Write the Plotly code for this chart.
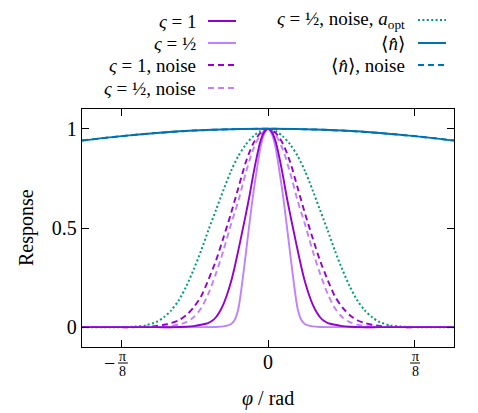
import plotly.graph_objects as go

# ---------------- data ----------------
# sigma = 1/2 (light solid)
X_S05 = [-0.5, -0.4, -0.3, -0.2, -0.14, -0.12, -0.10, -0.09, -0.08, -0.07, -0.06, -0.05, -0.04, -0.03, -0.02, -0.01,
         0.0, 0.01, 0.02, 0.03, 0.04, 0.05, 0.06, 0.07, 0.08, 0.09, 0.10, 0.12, 0.14, 0.2, 0.3, 0.4, 0.5]
Y_S05 = [0, 0, 0, 0, 0.001, 0.004, 0.015, 0.035, 0.09, 0.215, 0.365, 0.52, 0.668, 0.795, 0.91, 0.975,
         1.0, 0.975, 0.91, 0.795, 0.668, 0.52, 0.365, 0.215, 0.09, 0.035, 0.015, 0.004, 0.001, 0, 0, 0, 0]

# sigma = 1 (dark solid)
X_S1 = [-0.5, -0.4, -0.3, -0.25, -0.22, -0.20, -0.18, -0.16, -0.15, -0.14, -0.13, -0.12, -0.11, -0.10, -0.09, -0.08,
        -0.07, -0.06, -0.05, -0.04, -0.03, -0.02, -0.01,
        0.0, 0.01, 0.02, 0.03, 0.04, 0.05, 0.06, 0.07, 0.08, 0.09, 0.10, 0.11, 0.12, 0.13, 0.14, 0.15, 0.16,
        0.18, 0.20, 0.22, 0.25, 0.3, 0.4, 0.5]
Y_S1 = [0, 0, 0, 0, 0.002, 0.005, 0.012, 0.022, 0.032, 0.05, 0.078, 0.115, 0.165, 0.225, 0.30, 0.385,
        0.475, 0.565, 0.66, 0.765, 0.86, 0.94, 0.985,
        1.0, 0.985, 0.94, 0.86, 0.765, 0.66, 0.565, 0.475, 0.385, 0.30, 0.225, 0.165, 0.115, 0.078, 0.05, 0.032, 0.022,
        0.012, 0.005, 0.002, 0, 0, 0, 0]

# sigma = 1, noise (dark dashed)
X_S1N = [-0.5, -0.4, -0.36, -0.33, -0.30, -0.28, -0.26, -0.24, -0.22, -0.20, -0.18, -0.16, -0.14, -0.12, -0.10,
         -0.08, -0.06, -0.04, -0.02,
         0.0, 0.02, 0.04, 0.06, 0.08, 0.10, 0.12, 0.14, 0.16, 0.18, 0.20, 0.22, 0.24, 0.26, 0.28, 0.30, 0.33,
         0.36, 0.4, 0.5]
Y_S1N = [0, 0, 0, 0.002, 0.006, 0.012, 0.021, 0.035, 0.06, 0.10, 0.155, 0.24, 0.335, 0.45, 0.57,
         0.70, 0.83, 0.925, 0.98,
         1.0, 0.98, 0.925, 0.83, 0.70, 0.57, 0.45, 0.335, 0.24, 0.155, 0.10, 0.06, 0.035, 0.021, 0.012, 0.006, 0.002,
         0, 0, 0]

# sigma = 1/2, noise (light dashed)
X_S05N = [-0.5, -0.4, -0.35, -0.30, -0.28, -0.26, -0.24, -0.22, -0.20, -0.18, -0.16, -0.14, -0.12, -0.10, -0.08,
          -0.06, -0.04, -0.02,
          0.0, 0.02, 0.04, 0.06, 0.08, 0.10, 0.12, 0.14, 0.16, 0.18, 0.20, 0.22, 0.24, 0.26, 0.28, 0.30, 0.35,
          0.4, 0.5]
Y_S05N = [0, 0, 0, 0.001, 0.003, 0.006, 0.013, 0.025, 0.05, 0.095, 0.17, 0.27, 0.385, 0.515, 0.635,
          0.775, 0.895, 0.97,
          1.0, 0.97, 0.895, 0.775, 0.635, 0.515, 0.385, 0.27, 0.17, 0.095, 0.05, 0.025, 0.013, 0.006, 0.003, 0.001, 0,
          0, 0]

# sigma = 1/2, noise, a_opt (green dotted)
X_AOPT = [-0.5, -0.40, -0.36, -0.33, -0.30, -0.28, -0.26, -0.24, -0.22, -0.20, -0.18, -0.16, -0.14, -0.12, -0.10,
          -0.08, -0.06, -0.04, -0.02,
          0.0, 0.02, 0.04, 0.06, 0.08, 0.10, 0.12, 0.14, 0.16, 0.18, 0.20, 0.22, 0.24, 0.26, 0.28, 0.30, 0.33,
          0.36, 0.40, 0.5]
Y_AOPT = [0, 0, 0.003, 0.009, 0.026, 0.05, 0.085, 0.135, 0.205, 0.29, 0.385, 0.49, 0.59, 0.69, 0.785,
          0.862, 0.92, 0.962, 0.99,
          1.0, 0.99, 0.962, 0.92, 0.862, 0.785, 0.69, 0.59, 0.49, 0.385, 0.29, 0.205, 0.135, 0.085, 0.05, 0.026, 0.009,
          0.003, 0, 0]

# <n> and <n>, noise (blue)
X_N = [-0.5, -0.4, -0.3, -0.2, -0.1, 0.0, 0.1, 0.2, 0.3, 0.4, 0.5]
Y_N = [0.941, 0.962, 0.979, 0.991, 0.998, 1.0, 0.998, 0.991, 0.979, 0.962, 0.941]
Y_NN = [0.941, 0.962, 0.979, 0.991, 0.998, 1.0, 0.998, 0.991, 0.979, 0.962, 0.941]

X_TICKS = [-0.39270, 0.0, 0.39270]
Y_TICKS = [0, 0.5, 1]
Y_TICKTEXT = ["0", "0.5", "1"]

# ---------------- styling ----------------
DARK = "#9400d3"
LIGHT = "#c080ff"
GREEN = "#009e73"
BLUE = "#0072b2"
FONT = "'Liberation Serif', 'DejaVu Serif', serif"
FS = 20

fig = go.Figure()

def add(x, y, color, dash, width=1.9):
    fig.add_trace(go.Scatter(x=x, y=y, mode="lines", showlegend=False,
                             line=dict(color=color, width=width, dash=dash,
                                       shape="spline", smoothing=0.8)))

add(X_AOPT, Y_AOPT, GREEN, "2px,2.4px", 2)
add(X_S05N, Y_S05N, LIGHT, "6px,4px")
add(X_S1N, Y_S1N, DARK, "6px,4px")
add(X_S05, Y_S05, LIGHT, "solid")
add(X_S1, Y_S1, DARK, "solid")
add(X_N, Y_NN, BLUE, "6px,4px", 2)
add(X_N, Y_N, BLUE, "solid", 2)

axis_common = dict(showline=True, linecolor="black", linewidth=1.3, mirror="ticks",
                   ticks="inside", ticklen=7, tickcolor="black", tickwidth=1,
                   showgrid=False, zeroline=False,
                   tickfont=dict(family=FONT, size=FS, color="black"))

fig.update_layout(
    width=478, height=413,
    margin=dict(l=82, r=24, t=109, b=66, autoexpand=False),
    paper_bgcolor="white", plot_bgcolor="white",
    xaxis=dict(range=[-0.5, 0.5], tickvals=X_TICKS, showticklabels=False, **axis_common),
    yaxis=dict(range=[-0.1, 1.1], tickvals=Y_TICKS, ticktext=Y_TICKTEXT, **axis_common),
    font=dict(family=FONT, size=FS, color="black"),
)

annotations = []
shapes = []

# x tick labels: 0 and fractions for -pi/8, pi/8
annotations.append(dict(x=X_TICKS[1], y=0, xref="x", yref="paper", text="0", showarrow=False,
                        xanchor="center", yanchor="middle", yshift=-15,
                        font=dict(family=FONT, size=FS, color="black")))
for v, neg in [(X_TICKS[0], True), (X_TICKS[2], False)]:
    annotations.append(dict(x=v, y=0, xref="x", yref="paper", text="π", showarrow=False,
                            xanchor="center", yanchor="middle", yshift=-9.5, xshift=1,
                            font=dict(family=FONT, size=14, color="black")))
    annotations.append(dict(x=v, y=0, xref="x", yref="paper", text="8", showarrow=False,
                            xanchor="center", yanchor="middle", yshift=-24, xshift=1,
                            font=dict(family=FONT, size=14, color="black")))
    shapes.append(dict(type="line", xref="x", yref="paper", xsizemode="pixel", ysizemode="pixel",
                       xanchor=v, yanchor=0, x0=-4, x1=6, y0=-16, y1=-16,
                       line=dict(color="black", width=1)))
    if neg:
        annotations.append(dict(x=v, y=0, xref="x", yref="paper", text="−", showarrow=False,
                                xanchor="center", yanchor="middle", yshift=-16, xshift=-12,
                                font=dict(family=FONT, size=FS, color="black")))

# axis titles
annotations.append(dict(x=0.5, y=0, xref="paper", yref="paper", text="<i>φ</i> / rad", showarrow=False,
                        xanchor="center", yanchor="middle", yshift=-51,
                        font=dict(family=FONT, size=FS, color="black")))
annotations.append(dict(x=0, y=0.5, xref="paper", yref="paper", text="Response", showarrow=False,
                        xanchor="center", yanchor="middle", xshift=-56, textangle=-90,
                        font=dict(family=FONT, size=FS, color="black")))

# legend (manual, text right-aligned with key sample on the right)
W, H = 372.0, 238.0
def px(xp):
    return (xp - 82) / W
def py(yp):
    return (347 - yp) / H

LFS = 19
legend_items = [
    ("<i>ς</i> = 1", DARK, "solid", 198, 208, 236, 21),
    ("<i>ς</i> = ½", LIGHT, "solid", 198, 208, 236, 43),
    ("<i>ς</i> = 1, noise", DARK, "6px,4px", 198, 208, 236, 65),
    ("<i>ς</i> = ½, noise", LIGHT, "6px,4px", 198, 208, 236, 88),
    ("<i>ς</i> = ½, noise, <i>a</i><sub>opt</sub>", GREEN, "2px,2.4px", 407, 418, 446, 20),
    ("⟨<i>n̂</i>⟩", BLUE, "solid", 407, 418, 446, 43),
    ("⟨<i>n̂</i>⟩, noise", BLUE, "6px,4px", 407, 418, 446, 65),
]
for text, color, dash, tx, k0, k1, yy in legend_items:
    annotations.append(dict(x=px(tx), y=py(yy), xref="paper", yref="paper", text=text, showarrow=False,
                            xanchor="right", yanchor="middle",
                            font=dict(family=FONT, size=LFS, color="black")))
    shapes.append(dict(type="line", xref="paper", yref="paper", x0=px(k0), x1=px(k1),
                       y0=py(yy), y1=py(yy), line=dict(color=color, width=2, dash=dash)))

fig.update_layout(annotations=annotations, shapes=shapes)
fig.write_html("out.html")
